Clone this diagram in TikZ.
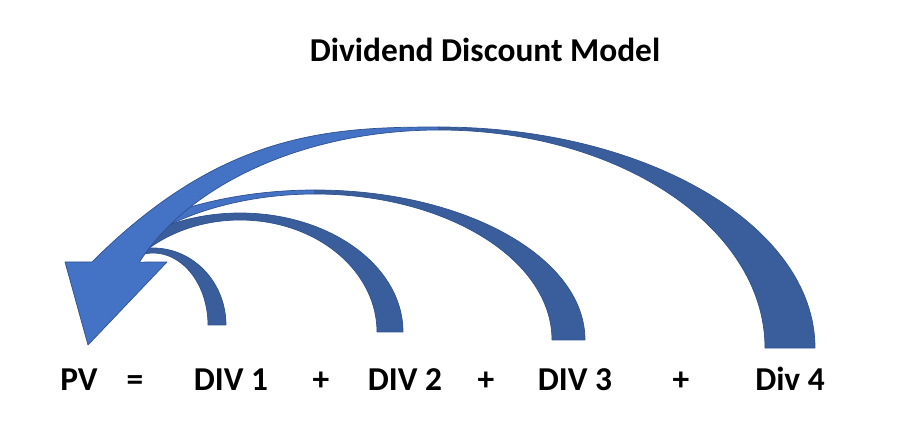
\documentclass[tikz,border=0pt]{standalone}
\usepackage{fontspec}
\setmainfont{Carlito}
\usepackage{tikz}
\definecolor{frontblue}{HTML}{4472C4}
\definecolor{backblue}{HTML}{3A5D9C}
\definecolor{edgeblue}{HTML}{2F528F}

\begin{document}
\begin{tikzpicture}[x=0.02cm, y=0.02cm,
    front/.style={fill=frontblue, draw=edgeblue, line width=0.4pt, line join=round},
    back/.style={fill=backblue, draw=edgeblue, line width=0.4pt, line join=round},
    lbl/.style={font=\fontsize{19}{23}\selectfont\bfseries, anchor=base, inner sep=0pt}]
    \useasboundingbox (0,0) rectangle (900,440);

    % Title
    \node[lbl] (title) at (485,378) {Dividend Discount Model};

    % Arc centres
    \coordinate (c1) at (153,115);
    \coordinate (c2) at (240,108);
    \coordinate (c3) at (315,100);
    \coordinate (c4) at (439,92);

    % DIV 2 arc
    \path[back] ([shift={(0:163 and 119)}]c2) arc[start angle=0, end angle=125.6, x radius=163, y radius=119]
        -- ([shift={(133.9:137 and 112)}]c2) arc[start angle=133.9, end angle=0, x radius=137, y radius=112] -- cycle;

    % DIV 1 arc
    \path[back] ([shift={(0:73 and 77)}]c1) arc[start angle=0, end angle=100, x radius=73, y radius=77]
        -- ([shift={(100:55 and 72)}]c1) arc[start angle=100, end angle=0, x radius=55, y radius=72] -- cycle;

    % DIV 3 arc
    \path[back] ([shift={(0:270 and 150)}]c3) arc[start angle=0, end angle=90, x radius=270, y radius=150]
        -- ([shift={(90:237 and 146)}]c3) arc[start angle=90, end angle=0, x radius=237, y radius=146] -- cycle;
    \path[front] ([shift={(90:270 and 150)}]c3) arc[start angle=90, end angle=125, x radius=270, y radius=150]
        -- ([shift={(130.8:237 and 146)}]c3) arc[start angle=130.8, end angle=90, x radius=237, y radius=146] -- cycle;

    % Div 4 arrow with head
    \path[back] ([shift={(0:376 and 221)}]c4) arc[start angle=0, end angle=90, x radius=376, y radius=221]
        -- ([shift={(90:326 and 218)}]c4) arc[start angle=90, end angle=0, x radius=326, y radius=218] -- cycle;
    \path[front] (88,95) -- (65,178) -- (92,178)
        .. controls (222,308) and (330,313) .. ([shift={(90:376 and 221)}]c4)
        -- ([shift={(90:326 and 218)}]c4) arc[start angle=90, end angle=156.8, x radius=326, y radius=218]
        -- (167,178) -- cycle;

    % Formula
    \node[lbl] (pv) at (79,50) {PV};
    \node[lbl] (eq) at (135,50) {=};
    \node[lbl] (div1) at (231,50) {DIV 1};
    \node[lbl] (plus1) at (321,50) {+};
    \node[lbl] (div2) at (405,50) {DIV 2};
    \node[lbl] (plus2) at (486,50) {+};
    \node[lbl] (div3) at (575,50) {DIV 3};
    \node[lbl] (plus3) at (681,50) {+};
    \node[lbl] (div4) at (790,50) {Div 4};
\end{tikzpicture}
\end{document}
